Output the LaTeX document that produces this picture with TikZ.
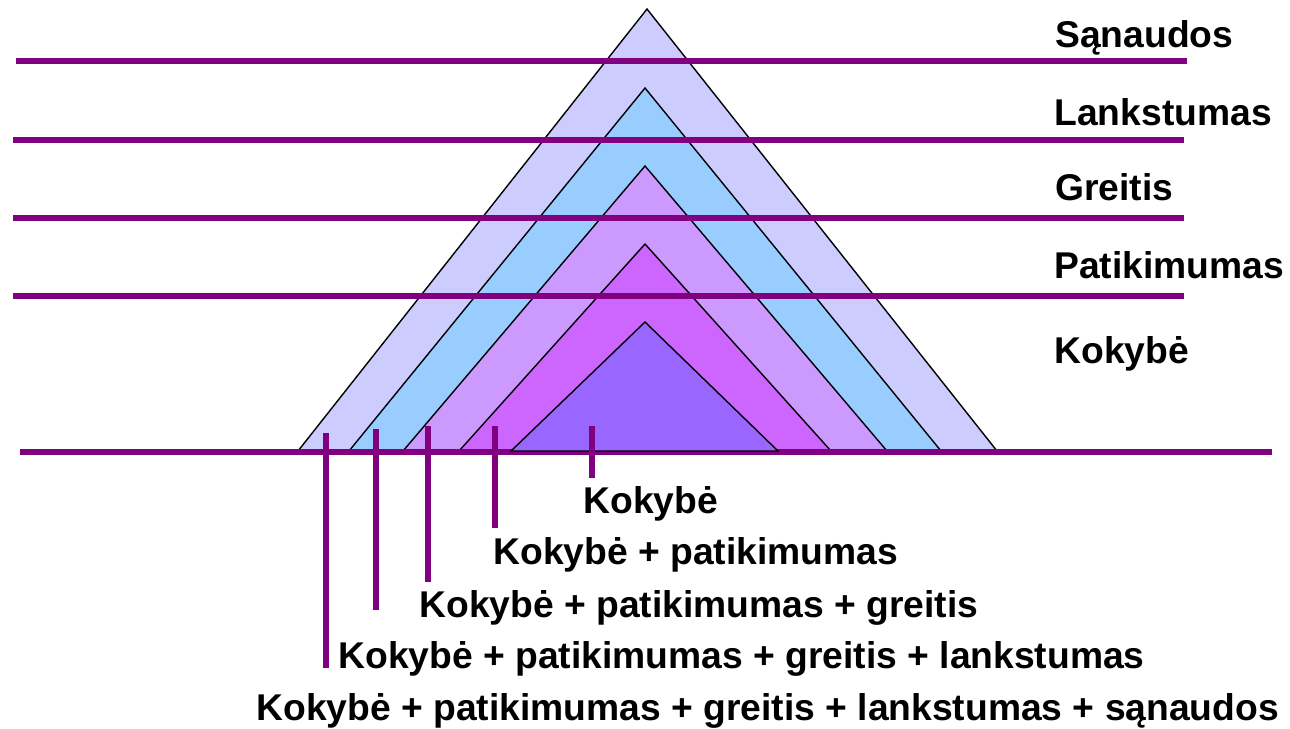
\documentclass[tikz,border=0pt]{standalone}
\usepackage{fontspec}
\setmainfont{Liberation Sans}
\definecolor{rib}{HTML}{800080}
\definecolor{sanaud}{HTML}{CCCCFF}
\definecolor{lankst}{HTML}{99CCFF}
\definecolor{greit}{HTML}{CC99FF}
\definecolor{patik}{HTML}{CC66FF}
\definecolor{kokyb}{HTML}{9966FF}
\begin{document}
\begin{tikzpicture}
  [x=0.02cm, y=-0.02cm,
   every node/.style={inner sep=0pt, anchor=base west, font=\fontsize{21.2}{25}\selectfont\bfseries},
   layer/.style={draw=black, line width=0.8pt},
   rule/.style={draw=rib, line width=3.1pt},
   tick/.style={draw=rib, line width=2.9pt}]
  \useasboundingbox (0,0) rectangle (1290,728);
  % nested layers, outermost first
  \foreach \ax/\ay/\bl/\br/\c in {647/9/298/997/sanaud, 645/88/349/941/lankst,
                                   645/166/403/887/greit, 645/244/459/831/patik}
    \filldraw[layer, fill=\c] (\ax,\ay) -- (\br,451) -- (\bl,451) -- cycle;
  % level rules
  \draw[rule] (16,61) -- (1187,61);
  \foreach \y in {140,218,296}
    \draw[rule] (13,\y) -- (1184,\y);
  \draw[rule] (20,452) -- (1272,452);
  % core layer sits over the base rule
  \filldraw[layer, fill=kokyb] (645,322) -- (778,451) -- (511,451) -- cycle;

  % level names
  \node (sanaudos) at (1055,47) {Sąnaudos};
  \node (lankstumas) at (1054,125) {Lankstumas};
  \node (greitis) at (1055,200) {Greitis};
  \node (patikimumas) at (1054,278) {Patikimumas};
  \node (kokybe) at (1054,363) {Kokybė};

  % sums under the base
  \node (sum1) at (583,513) {Kokybė};
  \node (sum2) at (493,564) {Kokybė + patikimumas};
  \node (sum3) at (419,617) {Kokybė + patikimumas + greitis};
  \node (sum4) at (338,668) {Kokybė + patikimumas + greitis + lankstumas};
  \node (sum5) at (256,720) {Kokybė + patikimumas + greitis + lankstumas + sąnaudos};

  % markers
  \coordinate (k1) at (592,426);
  \coordinate (k2) at (495,426);
  \coordinate (k3) at (428,426);
  \coordinate (k4) at (376,429);
  \coordinate (k5) at (326,433);
  \draw[tick, shorten >=1.6mm] (k1) -- (k1 |- sum1.north);
  \draw[tick, shorten >=1.8mm] (k2) -- (k2 |- sum2.north);
  \draw[tick, shorten >=1.6mm] (k3) -- (k3 |- sum3.north);
  \draw[tick, shorten >=1.4mm] (k4) -- (k4 |- sum3.base);
  \draw[tick] (k5) -- (k5 |- sum4.base);
\end{tikzpicture}
\end{document}
